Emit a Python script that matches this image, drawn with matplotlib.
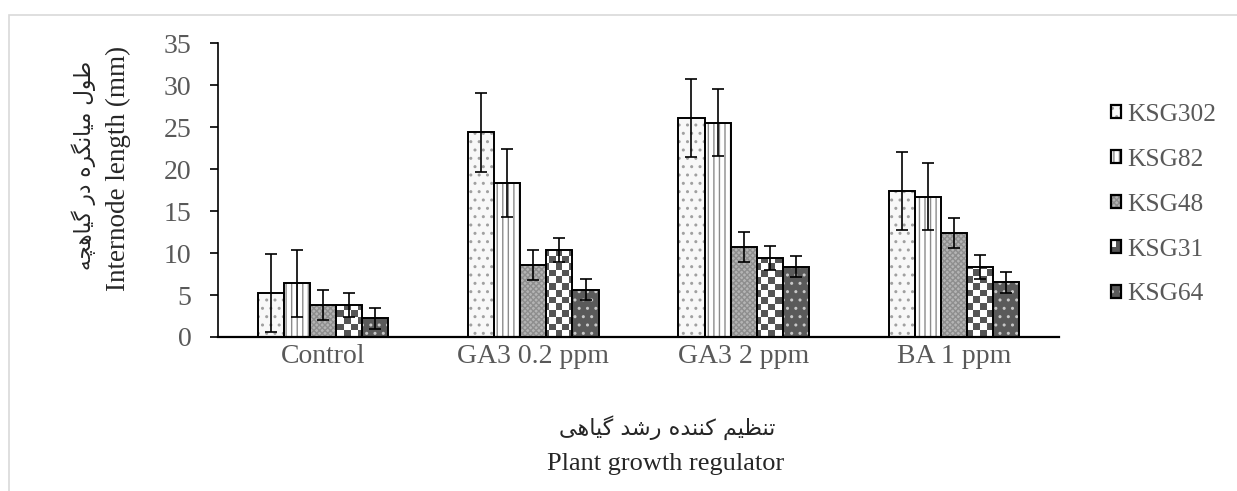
import numpy as np
import matplotlib
matplotlib.use('Agg')
import matplotlib.pyplot as plt
from matplotlib.patches import Rectangle
from matplotlib.colors import ListedColormap

# ---------------- data ----------------
categories = ['Control', 'GA3 0.2 ppm', 'GA3 2 ppm', 'BA 1 ppm']
series_names = ['KSG302', 'KSG82', 'KSG48', 'KSG31', 'KSG64']
ksg302 = [5.25, 24.4, 26.1, 17.4]
ksg82 = [6.4, 18.35, 25.55, 16.7]
ksg48 = [3.8, 8.6, 10.7, 12.35]
ksg31 = [3.8, 10.4, 9.4, 8.35]
ksg64 = [2.25, 5.65, 8.35, 6.55]
err_ksg302 = [4.7, 4.7, 4.7, 4.7]
err_ksg82 = [4.0, 4.0, 4.0, 4.0]
err_ksg48 = [1.8, 1.8, 1.8, 1.8]
err_ksg31 = [1.45, 1.45, 1.45, 1.45]
err_ksg64 = [1.25, 1.25, 1.25, 1.25]
y_ticks = [0, 5, 10, 15, 20, 25, 30, 35]
ylabel_fa = 'طول میانگره در گیاهچه'
ylabel_en = 'Internode length (mm)'
xlabel_fa = 'تنظیم کننده رشد گیاهی'
xlabel_en = 'Plant growth regulator'

values = [ksg302, ksg82, ksg48, ksg31, ksg64]
errors = [err_ksg302, err_ksg82, err_ksg48, err_ksg31, err_ksg64]

# ---------------- Persian shaping (presentation forms, visual order) ----------------
_forms = {
    'ا': ('\uFE8D', '\uFE8E', None, None),
    'ت': ('\uFE95', '\uFE96', '\uFE97', '\uFE98'),
    'چ': ('\uFB7A', '\uFB7B', '\uFB7C', '\uFB7D'),
    'د': ('\uFEA9', '\uFEAA', None, None),
    'ر': ('\uFEAD', '\uFEAE', None, None),
    'ش': ('\uFEB5', '\uFEB6', '\uFEB7', '\uFEB8'),
    'ط': ('\uFEC1', '\uFEC2', '\uFEC3', '\uFEC4'),
    'ظ': ('\uFEC5', '\uFEC6', '\uFEC7', '\uFEC8'),
    '\u06A9': ('\uFB8E', '\uFB8F', '\uFB90', '\uFB91'),
    'گ': ('\uFB92', '\uFB93', '\uFB94', '\uFB95'),
    'ل': ('\uFEDD', '\uFEDE', '\uFEDF', '\uFEE0'),
    'م': ('\uFEE1', '\uFEE2', '\uFEE3', '\uFEE4'),
    'ن': ('\uFEE5', '\uFEE6', '\uFEE7', '\uFEE8'),
    'ه': ('\uFEE9', '\uFEEA', '\uFEEB', '\uFEEC'),
    'و': ('\uFEED', '\uFEEE', None, None),
    '\u06CC': ('\uFBFC', '\uFBFD', '\uFBFE', '\uFBFF'),
}


def shape(text):
    text = text.replace('\u064A', '\u06CC').replace('\u0643', '\u06A9')
    out = []
    n = len(text)
    for i, ch in enumerate(text):
        if ch not in _forms:
            out.append(ch)
            continue
        prev = text[i - 1] if i > 0 else None
        nxt = text[i + 1] if i < n - 1 else None
        join_prev = prev in _forms and _forms[prev][2] is not None
        join_next = nxt in _forms and _forms[ch][2] is not None
        iso, fin, ini, med = _forms[ch]
        if join_prev and join_next:
            out.append(med)
        elif join_prev:
            out.append(fin)
        elif join_next:
            out.append(ini)
        else:
            out.append(iso)
    return ''.join(reversed(out))


# ---------------- style ----------------
plt.rcParams['font.family'] = ['Liberation Serif', 'DejaVu Sans']
plt.rcParams['hatch.linewidth'] = 1.0
TXT = '#595959'

W, H = 1237, 491
fig = plt.figure(figsize=(W / 100, H / 100), dpi=100)
ax = fig.add_axes([218 / W, 1 - 337 / H, (1059 - 218) / W, (337 - 43.3) / H])

styles = [
    dict(face='#f8f8f8', hatch='..', hcolor='#a0a0a0'),
    dict(face='white', hatch='|||', hcolor='#8c8c8c'),
    dict(face='#b4b4b4', hatch='xxxxxx', hcolor='#8e8e8e'),
    dict(face='white', hatch=None, hcolor=None, checker=True),
    dict(face='#5a5a5a', hatch='..', hcolor='#c8c8c8'),
]

x = np.arange(len(categories))
bw = 0.124
ax.set_xlim(-0.5, len(categories) - 0.5)
ax.set_ylim(0, 35)

# checker texture for KSG31
ax_w_px = (1059 - 218)
ax_h_px = (337 - 43.3)
cell = 6.6
ncol = int(round(ax_w_px / cell))
nrow = int(round(ax_h_px / cell))
ii, jj = np.indices((nrow, ncol))
board = (ii + jj) % 2
cmap_checker = ListedColormap(['white', '#555555'])

for j, (vals, errs, st) in enumerate(zip(values, errors, styles)):
    pos = x + (j - 2) * bw
    fill = ax.bar(pos, vals, width=bw, color=st['face'], edgecolor=st['hcolor'] or 'none',
                  hatch=st['hatch'], linewidth=0, zorder=2)
    if st.get('checker'):
        for rect in fill.patches:
            im = ax.imshow(board, extent=[0, 1, 0, 1], transform=ax.transAxes, cmap=cmap_checker,
                           interpolation='nearest', aspect='auto', zorder=2.5, origin='lower')
            im.set_clip_path(rect)
    ax.bar(pos, vals, width=bw, facecolor='none', edgecolor='black', linewidth=1.4, zorder=3)
    ax.errorbar(pos, vals, yerr=errs, fmt='none', ecolor='black', elinewidth=1.2,
                capsize=4, capthick=1.2, zorder=4)

ax.set_xlim(-0.5, len(categories) - 0.5)
ax.set_ylim(0, 35)
ax.set_yticks(y_ticks)
ax.set_xticks(x)
ax.set_xticklabels(categories)
for s in ['top', 'right']:
    ax.spines[s].set_visible(False)
ax.spines['left'].set_linewidth(1.2)
ax.spines['bottom'].set_linewidth(1.6)
ax.tick_params(axis='y', direction='out', length=6, width=1.2, pad=13, labelsize=20, labelcolor=TXT)
ax.tick_params(axis='x', length=0, pad=5, labelsize=20, labelcolor=TXT)

# axis titles
fig.text(84 / W, 1 - 165 / H, shape(ylabel_fa), rotation=90, ha='center', va='center',
         fontsize=15.5, color='#262626', family=['DejaVu Sans'])
fig.text(118 / W, 1 - 168 / H, ylabel_en, rotation=90, ha='center', va='center',
         fontsize=19.5, color='#262626')
fig.text(667 / W, 1 - 428 / H, shape(xlabel_fa), ha='center', va='center',
         fontsize=16, color='#262626', family=['DejaVu Sans'])
fig.text(666 / W, 1 - 464 / H, xlabel_en, ha='center', va='center',
         fontsize=19, color='#262626')


# legend
class SwatchHandler:
    def __init__(self, st):
        self.st = st

    def legend_artist(self, legend, orig_handle, fontsize, handlebox):
        x0, y0 = -handlebox.xdescent, -handlebox.ydescent
        w, h = handlebox.width, handlebox.height
        tr = handlebox.get_transform()
        st = self.st
        if st.get('checker'):
            bg = Rectangle((x0, y0), w, h, facecolor='#555555', edgecolor='none', transform=tr)
            handlebox.add_artist(bg)
            q = Rectangle((x0, y0 + h / 2), w / 2, h / 2, facecolor='white', edgecolor='none',
                          transform=tr)
            handlebox.add_artist(q)
        else:
            bg = Rectangle((x0, y0), w, h, facecolor=st['face'], edgecolor=st['hcolor'],
                           hatch=st['hatch'], linewidth=0, transform=tr)
            handlebox.add_artist(bg)
        border = Rectangle((x0, y0), w, h, facecolor='none', edgecolor='black', linewidth=1.6,
                           transform=tr)
        handlebox.add_artist(border)
        return border


handles = [Rectangle((0, 0), 1, 1) for _ in series_names]
hmap = {h: SwatchHandler(st) for h, st in zip(handles, styles)}
leg = fig.legend(handles, series_names, handler_map=hmap, loc='upper left',
                 bbox_to_anchor=(1111 / W, 1 - 104 / H), frameon=False, fontsize=18.3,
                 handlelength=0.4, handleheight=0.4, handletextpad=0.25, labelspacing=0.9,
                 borderpad=0, borderaxespad=0)
for t in leg.get_texts():
    t.set_color(TXT)

# outer light border
fig.patches.append(Rectangle((9 / W, -0.2), 1.5, 1.2 - 15 / H, transform=fig.transFigure,
                             fill=False, edgecolor='#d9d9d9', linewidth=1.2))

fig.savefig('out.png', dpi=100)
